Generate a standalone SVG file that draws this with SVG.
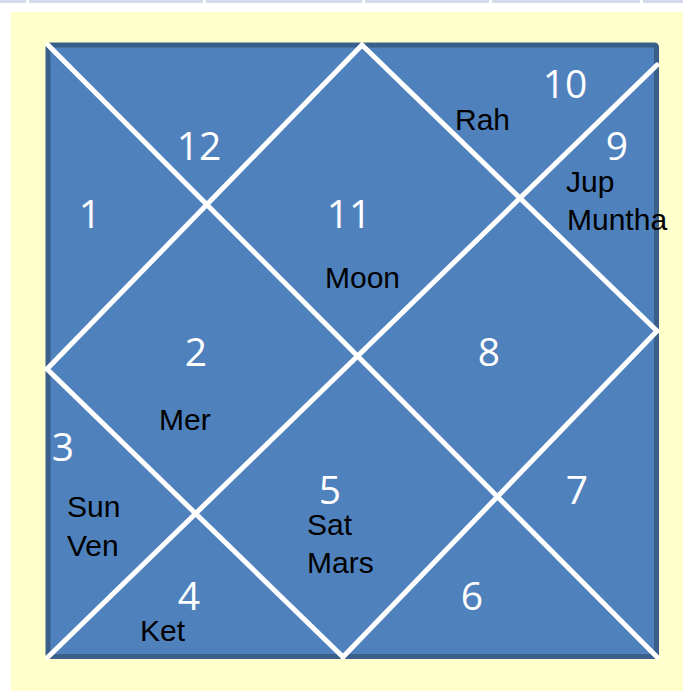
<svg xmlns="http://www.w3.org/2000/svg" width="683" height="691" viewBox="0 0 683 691">
  <style>
    .num { font-family: "Open Sans", "Liberation Sans", sans-serif; font-size: 39px; fill: #FFFFFF; text-anchor: middle; }
    .lbl { font-family: "Liberation Sans", Arial, sans-serif; font-size: 30px; fill: #000000; }
    .ln { stroke: #FFFFFF; stroke-width: 5; stroke-linecap: round; fill: none; }
    .bar { fill: #D3DBE9; }
  </style>
  <rect x="0" y="0" width="683" height="691" fill="#FFFFFF"/>
  <g id="top-strip">
    <rect class="bar" x="0" y="0" width="26" height="3"/>
    <rect class="bar" x="29" y="0" width="174" height="3"/>
    <rect class="bar" x="206" y="0" width="156" height="3"/>
    <rect class="bar" x="365" y="0" width="124" height="3"/>
    <rect class="bar" x="492" y="0" width="148" height="3"/>
    <rect class="bar" x="643" y="0" width="40" height="3"/>
  </g>
  <rect x="11" y="12" width="672" height="679" fill="#FFFFCC"/>
  <g id="chart-frame">
    <rect x="48" y="45" width="608.5" height="611.5" rx="2" fill="#4F81BD" stroke="#3A5F8B" stroke-width="5"/>
  </g>
  <g id="connectors">
    <line class="ln" x1="48" y1="45" x2="657" y2="657"/>
    <line class="ln" x1="657" y1="65" x2="48" y2="657"/>
    <line class="ln" x1="362" y1="45" x2="657" y2="331"/>
    <line class="ln" x1="657" y1="331" x2="343" y2="657"/>
    <line class="ln" x1="343" y1="657" x2="47" y2="369"/>
    <line class="ln" x1="47" y1="369" x2="362" y2="45"/>
  </g>
  <g id="house-1"><text class="num" x="90" y="228">1</text></g>
  <g id="house-2"><text class="num" x="196" y="366">2</text><text class="lbl" x="159" y="430">Mer</text></g>
  <g id="house-3"><text class="num" x="63" y="461">3</text><text class="lbl" x="67" y="517">Sun</text><text class="lbl" x="67" y="556">Ven</text></g>
  <g id="house-4"><text class="num" x="189" y="610">4</text><text class="lbl" x="140" y="641">Ket</text></g>
  <g id="house-5"><text class="num" x="330" y="504">5</text><text class="lbl" x="307" y="535">Sat</text><text class="lbl" x="307" y="573">Mars</text></g>
  <g id="house-6"><text class="num" x="472" y="610">6</text></g>
  <g id="house-7"><text class="num" x="577" y="504">7</text></g>
  <g id="house-8"><text class="num" x="489" y="366">8</text></g>
  <g id="house-9"><text class="num" x="617" y="160">9</text><text class="lbl" x="566" y="192">Jup</text><text class="lbl" x="567" y="230">Muntha</text></g>
  <g id="house-10"><text class="num" x="565" y="98">10</text><text class="lbl" x="455" y="130">Rah</text></g>
  <g id="house-11"><text class="num" x="349" y="228">11</text><text class="lbl" x="325" y="288">Moon</text></g>
  <g id="house-12"><text class="num" x="199" y="160">12</text></g>
</svg>
